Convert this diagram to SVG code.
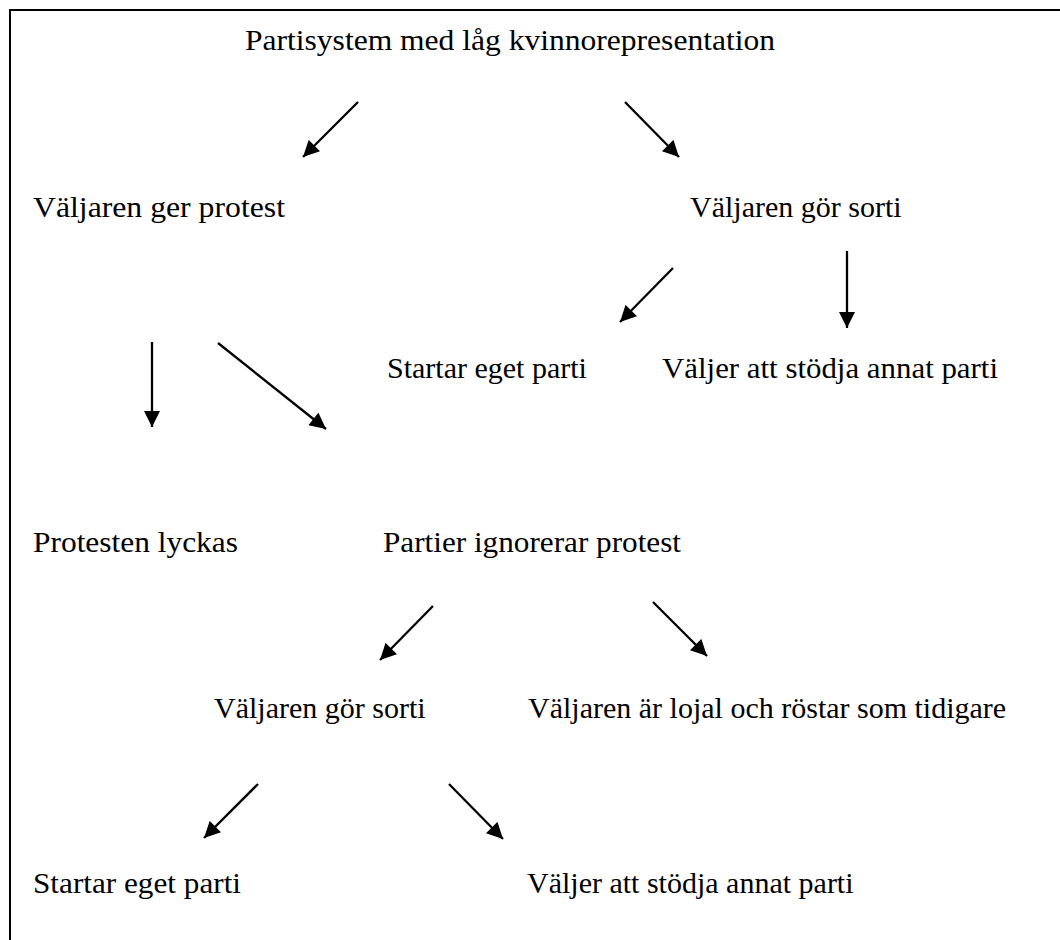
<svg xmlns="http://www.w3.org/2000/svg" width="1060" height="940" viewBox="0 0 1060 940">
<defs>
<marker id="ah" viewBox="0 0 10 10" refX="10" refY="5" markerWidth="7.5" markerHeight="7" markerUnits="strokeWidth" orient="auto">
<path d="M0,0 L10,5 L0,10 z" fill="#000"/>
</marker>
<style>
text{font-family:"Liberation Serif","Times New Roman",serif;font-size:30px;fill:#000}
.c line{stroke:#000;stroke-width:2.3;marker-end:url(#ah)}
</style>
</defs>
<rect width="1060" height="940" fill="#fff"/>
<path d="M10,940 L10,10 L1060,10" fill="none" stroke="#000" stroke-width="2"/>
<g id="n1"><text x="245" y="50" textLength="530" lengthAdjust="spacingAndGlyphs">Partisystem med låg kvinnorepresentation</text></g>
<g id="n2"><text x="33" y="217" textLength="252" lengthAdjust="spacingAndGlyphs">Väljaren ger protest</text></g>
<g id="n3"><text x="690" y="217">Väljaren gör sorti</text></g>
<g id="n4"><text x="387" y="378">Startar eget parti</text></g>
<g id="n5"><text x="662" y="378" textLength="336" lengthAdjust="spacingAndGlyphs">Väljer att stödja annat parti</text></g>
<g id="n6"><text x="33" y="552" textLength="205" lengthAdjust="spacingAndGlyphs">Protesten lyckas</text></g>
<g id="n7"><text x="383" y="552" textLength="298" lengthAdjust="spacingAndGlyphs">Partier ignorerar protest</text></g>
<g id="n8"><text x="214" y="718">Väljaren gör sorti</text></g>
<g id="n9"><text x="528" y="718">Väljaren är lojal och röstar som tidigare</text></g>
<g id="n10"><text x="33" y="893" textLength="208" lengthAdjust="spacingAndGlyphs">Startar eget parti</text></g>
<g id="n11"><text x="527" y="893">Väljer att stödja annat parti</text></g>
<g id="connectors" class="c">
<line x1="358" y1="102" x2="303" y2="157"/>
<line x1="625" y1="102" x2="679" y2="157"/>
<line x1="152" y1="342" x2="152" y2="427"/>
<line x1="218" y1="343" x2="326" y2="429"/>
<line x1="673" y1="268" x2="620" y2="322"/>
<line x1="847" y1="251" x2="847" y2="328"/>
<line x1="433" y1="606" x2="380" y2="660"/>
<line x1="653" y1="602" x2="707" y2="656"/>
<line x1="258" y1="784" x2="204" y2="838"/>
<line x1="449" y1="784" x2="503" y2="839"/>
</g>
</svg>
